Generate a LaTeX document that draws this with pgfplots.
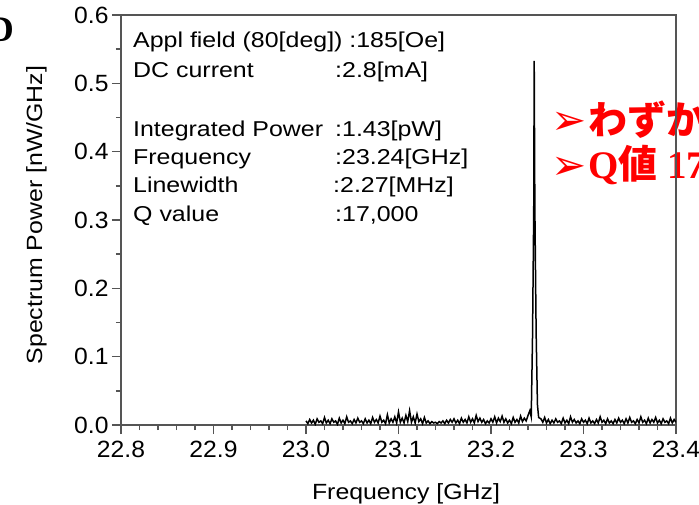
\documentclass[border=0pt]{standalone}
\usepackage{fontspec}
\usepackage{pgfplots}
\pgfplotsset{compat=1.18}
\setmainfont{Liberation Sans}[FakeStretch=1.16]
\newfontfamily\labfont{Liberation Sans}[FakeStretch=1.13]
\newfontfamily\tickfont{Liberation Sans}[FakeStretch=1.05]
\newfontfamily\jpfont{Noto Sans CJK JP}
\newfontfamily\symfont{DejaVu Sans}
\newfontfamily\serfont{Liberation Serif}
\definecolor{axisgray}{HTML}{555555}

\begin{document}
\begin{tikzpicture}
\useasboundingbox (-121bp,-80bp) rectangle (578bp,425bp);
\clip (-121bp,-80bp) rectangle (578bp,425bp);

% red remarks on the right, partly cut off
\node[anchor=base west, inner sep=0, text=red] at (430bp,290bp)
  {\symfont\fontsize{42bp}{42bp}\selectfont ➢};
\node[anchor=base west, inner sep=0, text=red] at (467bp,290bp)
  {\jpfont\bfseries\fontsize{39bp}{39bp}\selectfont わずか};
\node[anchor=base west, inner sep=0, text=red] at (430bp,245bp)
  {\symfont\fontsize{42bp}{42bp}\selectfont ➢};
\node[anchor=base west, inner sep=0, text=red] at (467bp,246bp)
  {\serfont\bfseries\fontsize{39bp}{39bp}\selectfont Q\jpfont 値\serfont\ 17};
% panel letter, cut at the left edge
\node[anchor=base east, inner sep=0] at (-107bp,383bp)
  {\serfont\bfseries\fontsize{36bp}{36bp}\selectfont D};

\begin{axis}[
    scale only axis,
    width=555bp, height=410bp,
    xmin=22.8, xmax=23.4, ymin=0, ymax=0.6,
    xtick={22.8,22.9,23.0,23.1,23.2,23.3,23.4},
    ytick={0,0.1,0.2,0.3,0.4,0.5,0.6},
    minor x tick num=4, minor y tick num=1,
    xtick pos=left, ytick pos=left,
    tick align=outside,
    major tick length=9bp, minor tick length=5bp,
    axis line style={draw=axisgray, line width=1.6bp},
    tick style={draw=axisgray, line width=1.4bp},
    /pgf/number format/assume math mode=true,
    xticklabel style={yshift=-4bp, /pgf/number format/fixed, /pgf/number format/fixed zerofill, /pgf/number format/precision=1},
    yticklabel style={/pgf/number format/fixed, /pgf/number format/fixed zerofill, /pgf/number format/precision=1},
    ticklabel style={font=\tickfont\fontsize{23.5bp}{23.5bp}\selectfont},
    xlabel={Frequency [GHz]},
    ylabel={Spectrum Power [nW/GHz]},
    label style={font=\labfont\fontsize{22bp}{22bp}\selectfont},
    xlabel style={at={(axis description cs:0.5135,-0.1805)}, anchor=base},
    ylabel style={at={(axis description cs:-0.1423,0.512)}, anchor=base},
]
\addplot[black, line width=1.5bp] coordinates {
(23.000,0.006) (23.002,0.002) (23.004,0.008) (23.006,0.003) (23.008,0.007) (23.010,0.001) (23.012,0.009) (23.014,0.004) (23.016,0.006) (23.018,0.002)
(23.020,0.011) (23.022,0.003) (23.024,0.007) (23.026,0.002) (23.028,0.009) (23.030,0.004) (23.032,0.006) (23.034,0.001) (23.036,0.010) (23.038,0.003)
(23.040,0.007) (23.042,0.002) (23.044,0.012) (23.046,0.004) (23.048,0.006) (23.050,0.002) (23.052,0.008) (23.054,0.003) (23.056,0.010) (23.058,0.004)
(23.060,0.006) (23.062,0.002) (23.064,0.009) (23.066,0.003) (23.068,0.007) (23.070,0.002) (23.072,0.011) (23.074,0.004) (23.076,0.008) (23.078,0.003)
(23.080,0.013) (23.082,0.004) (23.084,0.007) (23.086,0.002) (23.088,0.015) (23.090,0.003) (23.092,0.009) (23.094,0.004) (23.096,0.012) (23.098,0.003)
(23.100,0.019) (23.102,0.004) (23.104,0.010) (23.106,0.003) (23.108,0.014) (23.110,0.005) (23.112,0.021) (23.114,0.004) (23.116,0.012) (23.118,0.003)
(23.120,0.016) (23.122,0.005) (23.124,0.009) (23.126,0.002) (23.128,0.011) (23.130,0.003) (23.132,0.006) (23.134,0.002) (23.136,0.005) (23.138,0.003)
(23.140,0.004) (23.142,0.002) (23.144,0.005) (23.146,0.003) (23.148,0.006) (23.150,0.002) (23.152,0.007) (23.154,0.003) (23.156,0.008) (23.158,0.004)
(23.160,0.009) (23.162,0.003) (23.164,0.007) (23.166,0.002) (23.168,0.010) (23.170,0.004) (23.172,0.008) (23.174,0.003) (23.176,0.012) (23.178,0.004)
(23.180,0.009) (23.182,0.003) (23.184,0.014) (23.186,0.005) (23.188,0.010) (23.190,0.004) (23.192,0.008) (23.194,0.002) (23.196,0.006) (23.198,0.003)
(23.200,0.009) (23.202,0.004) (23.204,0.012) (23.206,0.003) (23.208,0.010) (23.210,0.005) (23.212,0.013) (23.214,0.004) (23.216,0.009) (23.218,0.003)
(23.220,0.007) (23.222,0.002) (23.224,0.011) (23.226,0.004) (23.228,0.008) (23.230,0.003) (23.232,0.013) (23.234,0.005) (23.236,0.010) (23.238,0.006)
(23.240,0.014) (23.242,0.021) (23.2435,0.012) (23.2449,0.130) (23.2462,0.315) (23.2467,0.533) (23.2474,0.320) (23.2488,0.135) (23.2502,0.030) (23.2515,0.011)
(23.254,0.009) (23.256,0.004) (23.258,0.011) (23.260,0.003) (23.262,0.008) (23.264,0.002) (23.266,0.007) (23.268,0.003) (23.270,0.009) (23.272,0.004)
(23.274,0.006) (23.276,0.002) (23.278,0.010) (23.280,0.003) (23.282,0.007) (23.284,0.002) (23.286,0.012) (23.288,0.004) (23.290,0.008) (23.292,0.003)
(23.294,0.006) (23.296,0.002) (23.298,0.009) (23.300,0.004) (23.302,0.007) (23.304,0.002) (23.306,0.010) (23.308,0.003) (23.310,0.006) (23.312,0.002)
(23.314,0.008) (23.316,0.003) (23.318,0.012) (23.320,0.004) (23.322,0.007) (23.324,0.002) (23.326,0.009) (23.328,0.003) (23.330,0.006) (23.332,0.002)
(23.334,0.008) (23.336,0.003) (23.338,0.010) (23.340,0.004) (23.342,0.007) (23.344,0.002) (23.346,0.009) (23.348,0.003) (23.350,0.011) (23.352,0.004)
(23.354,0.006) (23.356,0.002) (23.358,0.008) (23.360,0.003) (23.362,0.012) (23.364,0.004) (23.366,0.007) (23.368,0.002) (23.370,0.010) (23.372,0.003)
(23.374,0.008) (23.376,0.004) (23.378,0.011) (23.380,0.003) (23.382,0.007) (23.384,0.002) (23.386,0.009) (23.388,0.004) (23.390,0.006) (23.392,0.002)
(23.394,0.010) (23.396,0.003) (23.398,0.008) (23.400,0.004)
};
\end{axis}

% parameter box
\begin{scope}[every node/.style={anchor=base west, inner sep=0, font=\fontsize{21.5bp}{21.5bp}\selectfont}]
\node at (12bp,377bp) {Appl field (80[deg]) :185[Oe]};
\node at (12bp,347bp) {DC current};      \node at (214bp,347bp) {:2.8[mA]};
\node at (12bp,288bp) {Integrated Power}; \node at (214bp,288bp) {:1.43[pW]};
\node at (12bp,260bp) {Frequency};       \node at (214bp,260bp) {:23.24[GHz]};
\node at (12bp,232bp) {Linewidth};       \node at (212bp,232bp) {:2.27[MHz]};
\node at (12bp,203bp) {Q value};         \node at (214bp,203bp) {:17,000};
\end{scope}
\end{tikzpicture}
\end{document}
